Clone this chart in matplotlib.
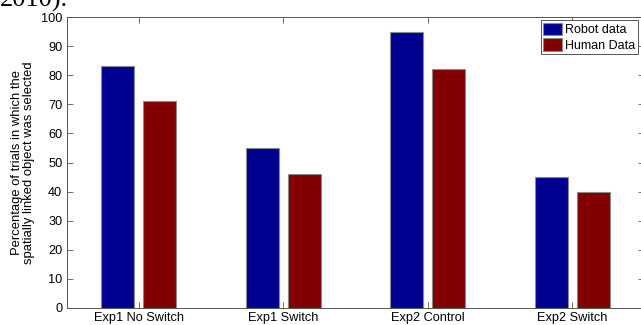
import numpy as np
import matplotlib
matplotlib.use("Agg")
import matplotlib.pyplot as plt
from matplotlib import rcParams

config = {"font.family": "sans-serif",
          "font.sans-serif": ["Liberation Sans"],
          "font.size": 9.2}
rcParams.update(config)

categories = ["Exp1 No Switch", "Exp1 Switch", "Exp2 Control", "Exp2 Switch"]
robot_data = [83, 55, 95, 45]
human_data = [71, 46, 82, 40]
y_ticks = [0, 10, 20, 30, 40, 50, 60, 70, 80, 90, 100]

fig = plt.figure(figsize=(6.41, 3.25), dpi=100)
# axes run a little past the right edge, as in the cropped original
ax = fig.add_axes([66.5 / 641, 17 / 325, 578 / 641, 291 / 325])

x = np.arange(1, len(categories) + 1)
w = 0.23
ax.bar(x - 0.145, robot_data, w, color="#000090", edgecolor="#8a8a8a",
       linewidth=0.8, label="Robot data")
ax.bar(x + 0.145, human_data, w, color="#800000", edgecolor="#8a8a8a",
       linewidth=0.8, label="Human Data")

ax.set_xlim(0.5, 4.5)
ax.set_ylim(0, 100)
ax.set_xticks(x)
ax.set_xticklabels(categories)
ax.set_yticks(y_ticks)
ax.tick_params(direction="in", length=4, width=0.6, color="#555555",
               top=True, right=True, labelsize=9.2, pad=3)
for s in ax.spines.values():
    s.set_color("#555555")
    s.set_linewidth(0.7)

ax.set_ylabel("Percentage of trials in which the\nspatially linked object was selected",
              fontsize=9.4, linespacing=1.0, labelpad=4)

leg = ax.legend(loc="upper left", bbox_to_anchor=(540.5 / 641, 1 - 20 / 325),
                bbox_transform=fig.transFigure, fancybox=False, framealpha=1,
                edgecolor="#555555", fontsize=9.0, handlelength=1.55,
                handleheight=1.2, handletextpad=0.2, borderpad=0.2,
                labelspacing=0.15, borderaxespad=0)
leg.get_frame().set_linewidth(0.7)

fig.text(0.0, 1 - 7 / 325, "2010).", family="Liberation Serif",
         fontsize=19, va="baseline", ha="left")

fig.savefig("out.png", dpi=100)
